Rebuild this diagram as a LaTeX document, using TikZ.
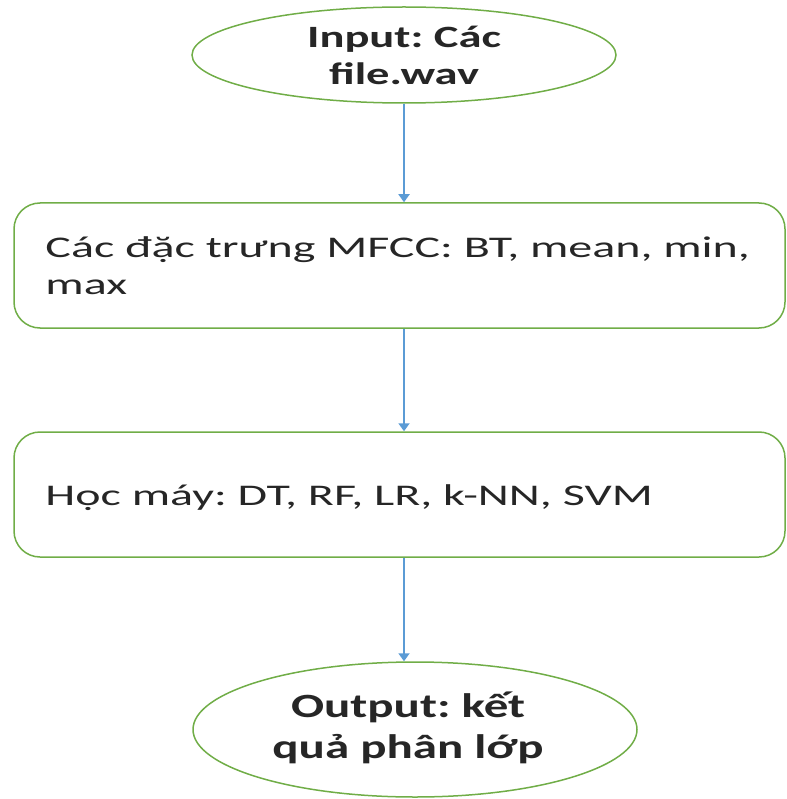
\documentclass[tikz,border=0pt]{standalone}
\usepackage{fontspec}
\setmainfont{Carlito}
\usepackage{graphicx}
\usetikzlibrary{shapes.geometric}
\usetikzlibrary{arrows.meta}
\definecolor{boxgreen}{HTML}{70AD47}
\definecolor{arrowblue}{HTML}{5B9BD5}
\definecolor{txtgray}{HTML}{262626}
\newcommand{\widetxt}[2]{\scalebox{#1}[1]{#2}}
\frenchspacing

\begin{document}
\begin{tikzpicture}[x=1pt, y=-1pt,
  endpoint/.style={ellipse, draw=boxgreen, line width=1.5pt, inner sep=0pt},
  endtext/.style={text=txtgray, inner sep=0pt},
  stepbox/.style={rectangle, rounded corners=26pt, draw=boxgreen, line width=1.5pt,
    minimum width=771pt, minimum height=125pt},
  steptext/.style={anchor=west, xshift=32pt, yshift=-3.5pt, inner sep=0pt,
    text=txtgray, font=\fontsize{30}{37}\selectfont},
  flow/.style={-{Triangle[width=11pt,length=8pt]}, arrowblue, line width=1.8pt}]

\useasboundingbox (0,0) rectangle (786,799);

\node[endpoint, minimum width=424pt, minimum height=96pt,
  label={[endtext, yshift=-4pt, font=\fontsize{31}{37}\selectfont\bfseries]center:\widetxt{1.5}{\begin{tabular}{@{}c@{}}Input: Các\\file.wav\end{tabular}}}] (in) at (404,55) {};

\node[stepbox, label={[steptext]west:\widetxt{1.6}{\begin{tabular}{@{}l@{}}Các đặc trưng MFCC: BT, mean, min,\\max\end{tabular}}}] (mfcc) at (399.5,265.5) {};

\node[stepbox, label={[steptext]west:\widetxt{1.6}{Học máy: DT, RF, LR, k-NN, SVM}}] (ml) at (399.5,494.5) {};

\node[endpoint, minimum width=444pt, minimum height=135pt,
  label={[endtext, xshift=-7pt, font=\fontsize{34}{41}\selectfont\bfseries]center:\widetxt{1.44}{\begin{tabular}{@{}c@{}}Output: kết\\quả phân lớp\end{tabular}}}] (out) at (415,729.5) {};

\draw[flow] (in.south) -- (in.south |- mfcc.north);
\draw[flow] (in.south |- mfcc.south) -- (in.south |- ml.north);
\draw[flow] (in.south |- ml.south) -- (in.south |- out.north);

\end{tikzpicture}
\end{document}
